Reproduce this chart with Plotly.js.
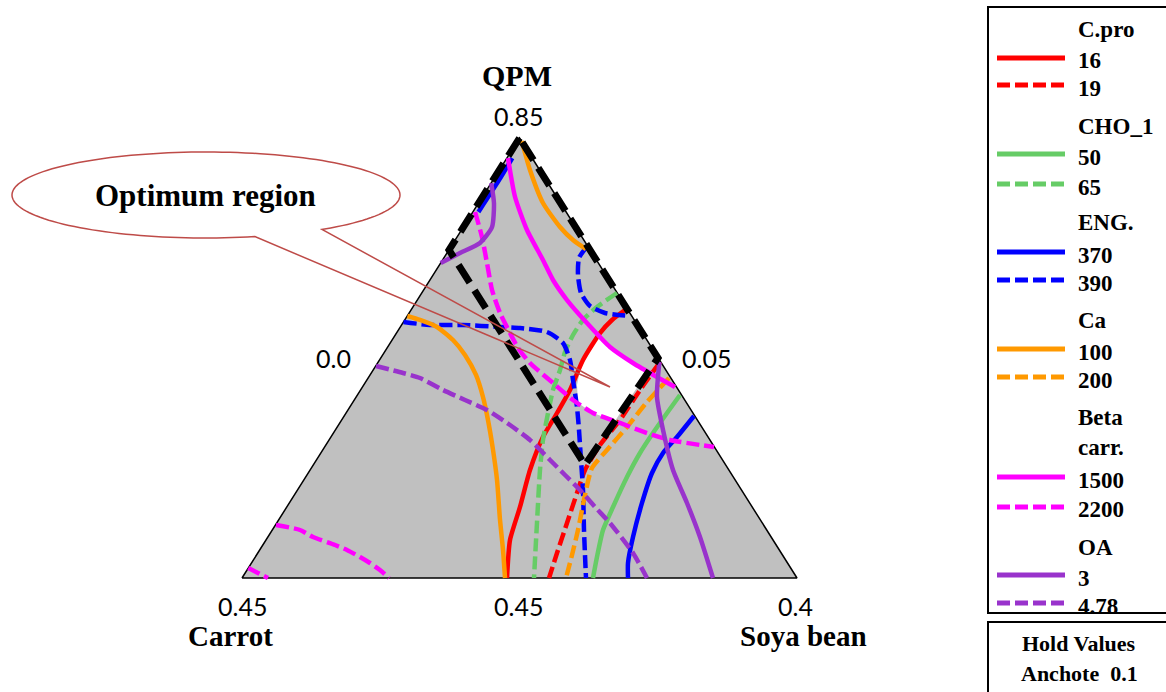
<!DOCTYPE html>
<html><head><meta charset="utf-8">
<script src="https://cdn.plot.ly/plotly-3.0.1.min.js"></script>
<style>html,body{margin:0;padding:0;background:#fff}</style>
</head><body><div id="chart" style="width:1166px;height:692px"></div>
<script>
// Mixture-design coordinates:
// U = position along the base (0 = Carrot vertex, 1 = Soya bean vertex), V = QPM pseudo fraction (0 base, 1 apex)
const triangleU = [0, 0.5, 1, 0];
const triangleV = [0, 1, 0, 0];

const cpro16U = [0.4775,0.4829,0.5009,0.5189,0.5423,0.5676,0.591,0.6144,0.645,0.6667,0.6901];
const cpro16V = [0,0.0864,0.1614,0.2455,0.3205,0.375,0.4273,0.4955,0.5568,0.5864,0.6091];
const cpro19U = [0.7532,0.7171,0.6811,0.645,0.618,0.6036,0.5856,0.5676,0.5532];
const cpro19V = [0.4909,0.4273,0.3591,0.3023,0.2455,0.1932,0.125,0.0568,0];

const cho50U = [0.7892,0.7658,0.7405,0.7171,0.6937,0.6685,0.6505,0.6396,0.6324];
const cho50V = [0.4159,0.375,0.3295,0.2841,0.2295,0.1614,0.1091,0.0477,0];
const cho65U = [0.6757,0.6396,0.6144,0.5964,0.582,0.573,0.5604,0.5514,0.5423,0.5369,0.5315,0.5261];
const cho65V = [0.6477,0.6159,0.5864,0.5523,0.5136,0.4727,0.4273,0.375,0.3136,0.2455,0.125,0];

const eng370U = [0.487,0.466,0.426,null,0.8144,0.7838,0.7586,0.7387,0.7207,0.7045,0.6955,0.6955];
const eng370V = [0.9545,0.91,0.832,null,0.3682,0.3205,0.2841,0.2386,0.1705,0.093,0.0341,0];
const eng390U = [0.291,0.3387,0.3982,0.4649,0.5009,0.5495,0.5784,0.591,0.5964,0.6036,0.6072,0.6108,0.6144,0.6162,0.618,0.6198,null,0.622,0.6072,0.6054,0.6108,0.627,0.654,0.6991];
const eng390V = [0.5818,0.575,0.575,0.5705,0.5682,0.5591,0.5341,0.4955,0.45,0.3886,0.3364,0.2682,0.2,0.1091,0.0523,0,null,0.7545,0.7273,0.6886,0.6477,0.6182,0.6023,0.5955];

const ca100U = [0.298,0.3207,0.3514,0.3802,0.4018,0.4216,0.4342,0.4432,0.4523,0.4595,0.4649,0.4703,0.4739,null,0.504,0.5189,0.5423,0.573,0.5964,0.6198];
const ca100V = [0.5955,0.5864,0.5705,0.5409,0.5068,0.4614,0.4114,0.3591,0.2909,0.2227,0.1318,0.0636,0,null,0.9932,0.9273,0.8523,0.7977,0.7682,0.7477];
const ca200U = [0.7694,0.7297,0.6937,0.6577,0.6306,0.618,0.6054,0.5946,0.5838];
const ca200V = [0.4545,0.4,0.3432,0.2909,0.25,0.1886,0.1091,0.0523,0];

const beta1500U = [0.4793,0.492,0.5135,0.5423,0.5604,0.5856,0.6216,0.663,0.7045,0.7477,0.7802];
const beta1500V = [0.9545,0.8659,0.7909,0.7227,0.6773,0.6318,0.5795,0.525,0.4886,0.4568,0.4341];
const beta2200U = [0.42,0.4324,0.4414,0.4505,0.4649,0.4829,0.4973,0.5189,0.5604,0.5964,0.6324,0.6811,0.7297,0.7712,0.8505,null,
                   0.0613,0.1045,0.1279,0.1676,0.1892,0.2126,0.2306,0.2486,0.2649,null,0.0114,0.0288,0.0468];
const beta2200V = [0.8318,0.775,0.7159,0.6545,0.6023,0.5568,0.5227,0.4886,0.4432,0.4045,0.375,0.3523,0.3295,0.3136,0.2977,null,
                   0.1205,0.1091,0.0932,0.075,0.0636,0.0477,0.0341,0.0182,0,null,0.0227,0.0114,0];

const oa3U = [0.449,0.454,0.4505,0.4288,0.3928,0.358,null,0.752,0.7477,0.7586,0.7766,0.8018,0.8252,0.8486];
const oa3V = [0.8977,0.8523,0.7977,0.7614,0.7386,0.7159,null,0.4909,0.4114,0.3364,0.2455,0.1705,0.0932,0];
const oa478U = [0.2414,0.2901,0.3207,0.3622,0.4018,0.4414,0.4829,0.5189,0.555,0.582,0.609,0.636,0.663,0.7045,0.7297];
const oa478V = [0.4818,0.4659,0.4545,0.4273,0.4045,0.3818,0.3477,0.3136,0.2682,0.2341,0.2,0.1614,0.125,0.0568,0];

const optimumU = [0.5,0.373,0.618,0.7495,0.5];
const optimumV = [1,0.7455,0.2568,0.5,1];
const feasibleU = [0.6414,0.663,0.7045,0.7315,0.7027,0.6721,0.6324,0.6054,0.6036,0.609,0.627];
const feasibleV = [0.5477,0.525,0.4886,0.4682,0.4159,0.3568,0.375,0.3977,0.4386,0.4727,0.5182];

const vertexNames = ['QPM', 'Carrot', 'Soya bean'];
const cornerTicks = ['0.85', '0.0', '0.05', '0.45', '0.45', '0.4'];
const groupTitles = ['C.pro', 'CHO_1', 'ENG.', 'Ca', 'Beta<br>carr.', 'OA'];
const groupLevels = [['16','19'], ['50','65'], ['370','390'], ['100','200'], ['1500','2200'], ['3','4.78']];
const holdLabel = 'Hold Values';
const holdValue = 'Anchote  0.1';
const calloutText = 'Optimum region';

// ---------- styles / layout ----------
const colors = ['#FF0000', '#66CC66', '#0000FF', '#FF9900', '#FF00FF', '#9933CC'];
const W = 1166, H = 692, M = {l:180, r:300, t:90, b:60};
const plotW = W - M.l - M.r, plotH = H - M.t - M.b;
const X0 = 242, UNITX = 555, YB = 578, UNITY = 440;
const xRange = [(M.l - X0)/UNITX, (W - M.r - X0)/UNITX];
const yRange = [(YB - (H - M.b))/UNITY, (YB - M.t)/UNITY];
const px = x => (x - M.l)/plotW;
const py = y => (H - M.b - y)/plotH;
const SERIF = 'Liberation Serif, Times New Roman, serif';
const SANS = 'Lato, Open Sans, sans-serif';
const DASH = '13px,5px';

const contourSets = [
  [cpro16U, cpro16V, cpro19U, cpro19V],
  [cho50U, cho50V, cho65U, cho65V],
  [eng370U, eng370V, eng390U, eng390V],
  [ca100U, ca100V, ca200U, ca200V],
  [beta1500U, beta1500V, beta2200U, beta2200V],
  [oa3U, oa3V, oa478U, oa478V]
];

const traces = [];
traces.push({x: triangleU, y: triangleV, mode: 'lines', fill: 'toself', fillcolor: '#C0C0C0',
  line: {color: '#000', width: 1.5}, hoverinfo: 'skip', showlegend: false});
traces.push({x: feasibleU, y: feasibleV, mode: 'lines', fill: 'toself', fillcolor: '#FFFFFF',
  line: {color: 'rgba(0,0,0,0)', width: 0}, hoverinfo: 'skip', showlegend: false});
contourSets.forEach((s, i) => {
  const name = groupTitles[i].replace('<br>', ' ');
  traces.push({x: s[0], y: s[1], mode: 'lines', name: name + ' ' + groupLevels[i][0],
    line: {color: colors[i], width: 4.5, shape: 'spline', smoothing: 0.6}, connectgaps: false, cliponaxis: false, showlegend: false});
  traces.push({x: s[2], y: s[3], mode: 'lines', name: name + ' ' + groupLevels[i][1],
    line: {color: colors[i], width: 4.5, dash: DASH, shape: 'spline', smoothing: 0.6}, connectgaps: false, cliponaxis: false, showlegend: false});
});
traces.push({x: optimumU, y: optimumV, mode: 'lines', name: 'Optimum region',
  line: {color: '#000', width: 7, dash: '21px,9px'}, cliponaxis: false, showlegend: false});

const annotations = [];
const shapes = [];
function txt(text, x, y, size, family, opts) {
  annotations.push(Object.assign({text: text, xref: 'paper', yref: 'paper', x: px(x), y: py(y),
    showarrow: false, xanchor: 'center', yanchor: 'middle',
    font: {family: family, size: size, color: '#000'}}, opts || {}));
}
// vertex names and corner values
txt('<b>' + vertexNames[0] + '</b>', 517, 75, 30, SERIF);
txt('<b>' + vertexNames[1] + '</b>', 230, 636, 29, SERIF);
txt('<b>' + vertexNames[2] + '</b>', 803, 636, 29, SERIF);
const tickPos = [[518,116],[333,358],[706,358],[242,606],[518,606],[795,606]];
cornerTicks.forEach((t, i) => txt(t, tickPos[i][0], tickPos[i][1], 25, SANS));

// callout
const cx = 206, cy = 195, rx = 194, ry = 43, t1 = 1.316, t2 = 0.93 + 2*Math.PI;
let path = '';
for (let t = t1; t <= t2 + 1e-9; t += 0.04) {
  const xx = cx + rx*Math.cos(t), yy = cy + ry*Math.sin(t);
  path += (path ? ' L' : 'M') + px(xx).toFixed(5) + ',' + py(yy).toFixed(5);
}
path += ' L' + px(cx + rx*Math.cos(t2)).toFixed(5) + ',' + py(cy + ry*Math.sin(t2)).toFixed(5);
path += ' L' + px(610).toFixed(5) + ',' + py(387).toFixed(5) + ' Z';
shapes.push({type: 'path', xref: 'paper', yref: 'paper', path: path,
  line: {color: '#BE4B48', width: 1.5}, fillcolor: 'rgba(0,0,0,0)', layer: 'above'});
txt('<b>' + calloutText + '</b>', 205, 195, 31, SERIF);

// custom legend
shapes.push({type: 'rect', xref: 'paper', yref: 'paper', x0: px(988), x1: px(1180), y0: py(613), y1: py(7),
  line: {color: '#000', width: 2}, fillcolor: 'rgba(0,0,0,0)'});
const headerY = [30, 127, 222, 320, 432, 547];
const itemY = [[61,88],[157,187],[255,283],[352,380],[480,510],[578,606]];
groupTitles.forEach((g, i) => {
  txt('<b>' + g + '</b>', 1076, headerY[i], 23, SERIF, {xanchor: 'left', align: 'left'});
  groupLevels[i].forEach((lv, j) => {
    txt('<b>' + lv + '</b>', 1076, itemY[i][j], 23, SERIF, {xanchor: 'left', align: 'left'});
    shapes.push({type: 'line', xref: 'paper', yref: 'paper', x0: px(997), x1: px(1065),
      y0: py(itemY[i][j] - 3), y1: py(itemY[i][j] - 3),
      line: {color: colors[i], width: 5, dash: j === 0 ? 'solid' : DASH}});
  });
});
shapes.push({type: 'rect', xref: 'paper', yref: 'paper', x0: px(988), x1: px(1180), y0: py(700), y1: py(622),
  line: {color: '#000', width: 2}, fillcolor: 'rgba(0,0,0,0)'});
txt('<b>' + holdLabel + '</b>', 1079, 643, 22, SERIF);
txt('<b>' + holdValue + '</b>', 1079, 673, 22, SERIF);

const layout = {
  width: W, height: H, margin: M,
  paper_bgcolor: '#FFFFFF', plot_bgcolor: '#FFFFFF', showlegend: false,
  xaxis: {range: xRange, visible: false, fixedrange: true},
  yaxis: {range: yRange, visible: false, fixedrange: true},
  annotations: annotations, shapes: shapes
};
Plotly.newPlot('chart', traces, layout, {staticPlot: true, displayModeBar: false});
</script>
</body></html>
